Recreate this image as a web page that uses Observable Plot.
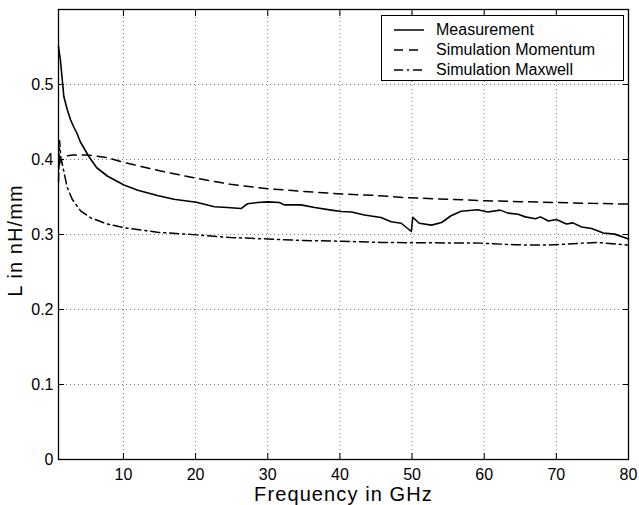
<!DOCTYPE html>
<html>
<head>
<meta charset="utf-8">
<script src="https://cdn.jsdelivr.net/npm/d3@7"></script>
<script src="https://cdn.jsdelivr.net/npm/@observablehq/plot@0.6"></script>
<style>
  body { margin: 0; background: #fff; }
  #wrap { position: relative; width: 639px; height: 505px; font-family: "Liberation Sans", Arial, Helvetica, sans-serif; }
  #legend { position: absolute; left: 381px; top: 15px; width: 243px; height: 66px; border: 1.3px solid #000; background: #fff; box-sizing: border-box; padding-top: 4px; }
  #legend .row { height: 20px; display: flex; align-items: center; font-size: 16px; color: #000; }
  #legend svg { margin-left: 12px; margin-right: 12px; }
  g[aria-label="x-axis label"] text { font-size: 20px; letter-spacing: 1.1px; }
  g[aria-label="y-axis label"] text { font-size: 20px; letter-spacing: 1.1px; }
</style>
</head>
<body>
<div id="wrap"></div>
<script>
// Measurement (solid)
const measFreq = [1, 1.28, 1.74, 2.2, 2.67, 3.13, 3.6, 4, 5.2, 6.3, 7.76, 10.07, 12, 14.7, 17, 20.1, 22.6, 24.4, 26.3, 27.2, 28.6, 30, 31.6, 32.3, 34.6, 36.5, 38.8, 40.2, 41.6, 43.4, 45.7, 47.1, 48.5, 49.9, 50.1, 51.0, 52.7, 54.1, 55.4, 56.8, 59.1, 60.5, 62.2, 63.3, 64.7, 65.7, 67.1, 67.8, 68.9, 70.0, 71.4, 72.3, 73.5, 74.9, 76.5, 78.1, 80];
const measL    = [0.551, 0.531, 0.484, 0.467, 0.453, 0.443, 0.434, 0.424, 0.404, 0.389, 0.378, 0.366, 0.359, 0.352, 0.347, 0.343, 0.337, 0.336, 0.3346, 0.341, 0.3426, 0.3435, 0.3426, 0.3395, 0.3395, 0.336, 0.3325, 0.3306, 0.330, 0.326, 0.3226, 0.317, 0.315, 0.304, 0.323, 0.315, 0.3125, 0.316, 0.325, 0.331, 0.333, 0.330, 0.3325, 0.3285, 0.327, 0.3235, 0.321, 0.3235, 0.318, 0.320, 0.314, 0.3155, 0.310, 0.308, 0.302, 0.3005, 0.294];
// Simulation Momentum (dashed)
const momFreq = [1, 1.28, 2.2, 3, 5, 7.76, 10.07, 15, 20.1, 24.8, 30, 35, 40.2, 45, 49.4, 55, 60.1, 65, 70.3, 75, 80];
const momL    = [0.39, 0.398, 0.405, 0.406, 0.406, 0.4025, 0.396, 0.385, 0.375, 0.367, 0.361, 0.3575, 0.354, 0.352, 0.349, 0.347, 0.345, 0.3438, 0.3426, 0.3415, 0.3405];
// Simulation Maxwell (dash-dot)
const maxFreq = [1, 1.15, 1.35, 1.5, 2.2, 2.9, 4.06, 5.5, 7.76, 10.1, 14.7, 20.1, 24.8, 30, 35, 40.2, 45.7, 50.3, 55, 59.6, 64.2, 68.9, 73.5, 75.8, 80];
const maxL    = [0.37, 0.425, 0.40, 0.395, 0.363, 0.347, 0.3315, 0.322, 0.314, 0.309, 0.303, 0.2995, 0.296, 0.294, 0.292, 0.291, 0.2894, 0.289, 0.2888, 0.2885, 0.2863, 0.2858, 0.2885, 0.2894, 0.2858];

const seriesNames = ["Measurement", "Simulation Momentum", "Simulation Maxwell"];
const seriesDash = [null, "9,6", "9,4,2,4"];
const xTicks = [10, 20, 30, 40, 50, 60, 70, 80];
const yTicks = [0, 0.1, 0.2, 0.3, 0.4, 0.5];
const xLabel = "Frequency in GHz";
const yLabel = "L in nH/mm";

const meas = measFreq.map((f, i) => ({f, L: measL[i]}));
const mom = momFreq.map((f, i) => ({f, L: momL[i]}));
const mxw = maxFreq.map((f, i) => ({f, L: maxL[i]}));

const gridStyle = {stroke: "#777", strokeOpacity: 1, strokeDasharray: "1,3", strokeWidth: 1};

const chart = Plot.plot({
  width: 639,
  height: 505,
  marginLeft: 58,
  marginRight: 11,
  marginTop: 9,
  marginBottom: 46,
  style: {fontFamily: '"Liberation Sans", Arial, Helvetica, sans-serif', fontSize: "16px", color: "#000", background: "#fff", overflow: "visible"},
  x: {domain: [1, 80]},
  y: {domain: [0, 0.6]},
  marks: [
    Plot.gridX(xTicks, gridStyle),
    Plot.gridY(yTicks.filter(d => d > 0), gridStyle),
    Plot.line(mxw, {x: "f", y: "L", stroke: "#000", strokeWidth: 1.5, strokeDasharray: seriesDash[2]}),
    Plot.line(mom, {x: "f", y: "L", stroke: "#000", strokeWidth: 1.5, strokeDasharray: seriesDash[1]}),
    Plot.line(meas, {x: "f", y: "L", stroke: "#000", strokeWidth: 1.6}),
    Plot.frame({stroke: "#000", strokeWidth: 1.3}),
    Plot.axisX(xTicks, {anchor: "bottom", tickSize: -6, tickFormat: () => "", label: null}),
    Plot.axisX(xTicks, {anchor: "top", tickSize: -6, tickFormat: () => "", label: null}),
    Plot.axisY(yTicks, {anchor: "left", tickSize: -6, tickFormat: () => "", label: null}),
    Plot.axisY(yTicks, {anchor: "right", tickSize: -6, tickFormat: () => "", label: null}),
    Plot.axisX(xTicks, {anchor: "bottom", tickSize: 0, tickPadding: 9, label: xLabel, labelAnchor: "center", labelArrow: "none", labelOffset: 41}),
    Plot.axisY(yTicks, {anchor: "left", tickSize: 0, tickPadding: 5, label: yLabel, labelAnchor: "center", labelArrow: "none", labelOffset: 51, tickFormat: d => d === 0 ? "0" : d.toFixed(1)})
  ]
});

const wrap = document.getElementById("wrap");
wrap.appendChild(chart);

// nudge the y-axis title down a little, as in the reference
const yl = chart.querySelector('g[aria-label="y-axis label"]');
if (yl) {
  const t = yl.getAttribute("transform") || "";
  yl.setAttribute("transform", "translate(0,6) " + t);
}

// Legend
const legend = document.createElement("div");
legend.id = "legend";
seriesNames.forEach((name, i) => {
  const row = document.createElement("div");
  row.className = "row";
  const svg = d3.create("svg").attr("width", 30).attr("height", 6);
  svg.append("line").attr("x1", 0).attr("x2", 30).attr("y1", 3).attr("y2", 3)
    .attr("stroke", "#000").attr("stroke-width", 1.5)
    .attr("stroke-dasharray", seriesDash[i]);
  row.appendChild(svg.node());
  const span = document.createElement("span");
  span.textContent = name;
  row.appendChild(span);
  legend.appendChild(row);
});
wrap.appendChild(legend);
</script>
</body>
</html>
